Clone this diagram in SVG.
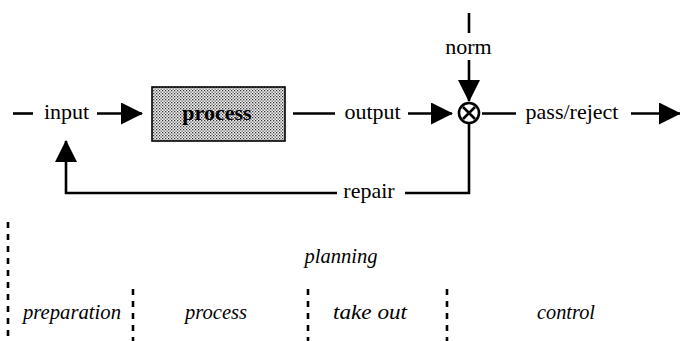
<svg xmlns="http://www.w3.org/2000/svg" width="680" height="341" viewBox="0 0 680 341">
  <style>
    text { font-family: 'Liberation Serif', 'DejaVu Serif', serif; fill: #000; text-anchor: middle; }
    .lbl { font-size: 22px; }
    .box-lbl { font-weight: bold; }
    .phase { font-size: 20px; font-style: italic; }
    .wire { fill: none; stroke: #000; stroke-width: 2.6; }
    .arrow { marker-end: url(#head); }
    .divider { fill: none; stroke: #000; stroke-width: 2.6; stroke-dasharray: 6 6; }
  </style>
  <defs>
    <marker id="head" viewBox="0 0 22 22" refX="21" refY="11" markerWidth="22" markerHeight="22" markerUnits="userSpaceOnUse" orient="auto">
      <path d="M0,0 L22,11 L0,22 Z" fill="#000"/>
    </marker>
    <!-- dotted halftone fill for the process box -->
    <pattern id="stipple" width="3" height="3" patternUnits="userSpaceOnUse">
      <rect width="3" height="3" fill="#f4f4f4"/>
      <rect x="0" y="0" width="1.3" height="1.3" fill="#333"/>
      <rect x="1.5" y="1.5" width="1.3" height="1.3" fill="#555"/>
    </pattern>
  </defs>

  <rect width="680" height="341" fill="#fff"/>

  <!-- connectors -->
  <g id="connectors">
    <line class="wire" x1="13" y1="113.5" x2="33" y2="113.5"/>
    <line class="wire arrow" x1="97" y1="113.5" x2="142" y2="113.5"/>
    <line class="wire" x1="293" y1="113.5" x2="335" y2="113.5"/>
    <line class="wire arrow" x1="408" y1="113.5" x2="452" y2="113.5"/>
    <line class="wire" x1="469" y1="13" x2="469" y2="33"/>
    <line class="wire arrow" x1="469" y1="60" x2="469" y2="101"/>
    <line class="wire" x1="482" y1="113.5" x2="516" y2="113.5"/>
    <line class="wire arrow" x1="631" y1="113.5" x2="680" y2="113.5"/>
    <polyline class="wire" points="469,124 469,193 405,193"/>
    <polyline class="wire arrow" points="337,193 66,193 66,141"/>
  </g>

  <!-- process chain -->
  <g id="input">
    <text class="lbl" x="66.5" y="119">input</text>
  </g>
  <g id="process">
    <rect x="152" y="87" width="133" height="54" fill="url(#stipple)" stroke="#000" stroke-width="1.6"/>
    <text class="lbl box-lbl" x="217" y="120">process</text>
  </g>
  <g id="output">
    <text class="lbl" x="372.5" y="119">output</text>
  </g>
  <g id="norm">
    <text class="lbl" x="468.5" y="54">norm</text>
  </g>
  <g id="comparator">
    <circle cx="469" cy="113" r="10" fill="#fff" stroke="#000" stroke-width="2.6"/>
    <path d="M463,107 L475,119 M475,107 L463,119" stroke="#000" stroke-width="2.6"/>
  </g>
  <g id="pass-reject">
    <text class="lbl" x="572" y="119">pass/reject</text>
  </g>
  <g id="repair">
    <text class="lbl" x="369" y="198">repair</text>
  </g>

  <!-- phase bands -->
  <g id="phases">
    <line class="divider" x1="8" y1="222" x2="8" y2="341"/>
    <line class="divider" x1="133" y1="289" x2="133" y2="341"/>
    <line class="divider" x1="308" y1="289" x2="308" y2="341"/>
    <line class="divider" x1="447" y1="289" x2="447" y2="341"/>
    <text class="phase" x="341" y="263" textLength="73" lengthAdjust="spacingAndGlyphs">planning</text>
    <text class="phase" x="72" y="319" textLength="98" lengthAdjust="spacingAndGlyphs">preparation</text>
    <text class="phase" x="216" y="319" textLength="62" lengthAdjust="spacingAndGlyphs">process</text>
    <text class="phase" x="370" y="319" textLength="74" lengthAdjust="spacingAndGlyphs">take out</text>
    <text class="phase" x="566" y="319" textLength="58" lengthAdjust="spacingAndGlyphs">control</text>
  </g>
</svg>
